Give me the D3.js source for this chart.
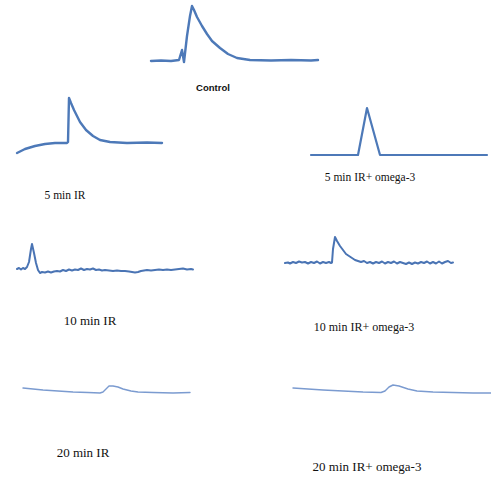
<!DOCTYPE html>
<html><head><meta charset="utf-8">
<script src="https://cdn.jsdelivr.net/npm/d3@7"></script>
<style>body{margin:0;background:#fff}svg{display:block}</style>
</head><body>
<svg id="c" width="491" height="477"></svg>
<script>
// ---- data: [time, amplitude] pairs (arbitrary units, baseline = 0) ----
const control = [[0,0],[10,0.5],[20,0],[28,1],[31,11],[33,-1],[36,25],[39,45],[41,55],[43,51],[46,44],[51,35],[56,27],[61,20],[69,13],[77,7],[86,3],[99,1],[120,0.5],[140,1],[160,0.5],[167,1]];
const ir5 = [[0,-10],[4,-8],[8,-6],[13,-4.5],[18,-3],[28,-1],[38,0],[50,0],[51,1],[52,45],[54,40],[57,33],[63,21],[69,13],[76,7],[83,3],[93,1],[110,0],[130,0.5],[145,0]];
const ir5omega = [[0,0],[47,0],[56,47],[69,0],[176,0]];
const ir10 = [[0,2],[2,3],[4,1.5],[6,3],[8,2],[10,4],[12,9],[14,22],[15,27],[17,18],[19,8],[21,1],[23,-2],[25,-1],[28,-1.5],[31,-0.5],[34,-1.5],[37,-0.5],[40,0],[43,-0.5],[46,1],[49,0],[52,1.5],[55,0.5],[58,1.5],[61,1],[64,2.5],[67,1],[70,2],[73,1.5],[76,2.5],[79,1],[82,1.5],[85,0.5],[88,1],[92,0.5],[96,0],[100,0.5],[104,0],[108,0],[112,-0.5],[115,-1],[118,-1.5],[121,-1],[124,0],[127,0.5],[130,1],[134,0.5],[138,1],[142,1.5],[146,1],[150,1.5],[154,1],[158,1.5],[162,2],[166,2.5],[170,1.5],[174,2],[176,1.5]];
const ir10omega = [[0,0],[3,0.5],[5,-0.5],[8,1],[11,0],[14,1.5],[17,0.5],[20,1],[23,-0.5],[26,1],[29,0],[32,1.5],[35,-0.5],[38,1],[41,0],[44,1],[46,0],[47,0.5],[48,14],[50,26],[52,22],[55,17],[58,13],[61,9],[64,7],[67,5],[70,3],[73,2],[76,1],[79,2],[82,0],[85,1],[88,-0.5],[91,1],[94,0],[97,1.5],[100,-0.5],[103,1],[106,0],[109,1.5],[112,-0.5],[115,1],[118,0],[121,-1],[124,0.5],[127,-1],[130,0.5],[133,-0.5],[136,1],[139,0],[142,1.5],[145,-0.5],[148,1],[151,-0.5],[154,1.5],[157,-0.5],[160,1],[163,2],[166,0],[168,0.5]];
const ir20 = [[0,5],[10,4],[20,3],[35,2],[50,1],[65,0.5],[77,0],[80,1],[83,4],[86,7],[90,7],[95,6],[100,4],[108,2],[115,1],[130,0.5],[150,0],[167,0.5]];
const ir20omega = [[0,5],[15,4],[30,3],[50,2],[70,1],[88,0.5],[92,2],[96,6],[100,8],[106,7],[115,4],[124,2],[140,1],[160,0.5],[180,0],[198,0]];
const labels = ["Control","5 min IR","5 min IR+ omega-3","10 min IR","10 min IR+ omega-3","20 min IR","20 min IR+ omega-3"];

// ---- layout ----
const series = [control, ir5, ir5omega, ir10, ir10omega, ir20, ir20omega];
const serif = "'Liberation Serif', 'Times New Roman', serif";
const layout = [
  {x0:151,x1:318,base:61, color:"#4d79b8",w:2.4, lx:213,ly:91, font:"bold 9.5px 'Liberation Sans', Arial, sans-serif"},
  {x0:17, x1:162,base:143,color:"#4d79b8",w:2.4, lx:65, ly:199,font:"11.5px " + serif},
  {x0:311,x1:487,base:155,color:"#4d79b8",w:2.2, lx:370,ly:181,font:"11.5px " + serif},
  {x0:17, x1:193,base:271,color:"#4a74b4",w:2.0, lx:90, ly:325,font:"13px " + serif},
  {x0:285,x1:453,base:263,color:"#4a74b4",w:2.0, lx:364,ly:331,font:"12px " + serif},
  {x0:23, x1:190,base:393,color:"#7b9bd0",w:1.4, lx:83, ly:457,font:"13px " + serif},
  {x0:293,x1:491,base:393,color:"#7b9bd0",w:1.4, lx:367,ly:471,font:"13px " + serif}
];

const svg = d3.select("#c");
series.forEach((d, i) => {
  const L = layout[i];
  const x = d3.scaleLinear().domain(d3.extent(d, p => p[0])).range([L.x0, L.x1]);
  const y = d3.scaleLinear().domain([0, 60]).range([L.base, L.base - 60]);
  const line = d3.line().x(p => x(p[0])).y(p => y(p[1]));
  svg.append("path").datum(d).attr("d", line)
    .attr("fill","none").attr("stroke",L.color).attr("stroke-width",L.w)
    .attr("stroke-linejoin","round").attr("stroke-linecap","round");
  svg.append("text").attr("x",L.lx).attr("y",L.ly).attr("text-anchor","middle")
    .style("font",L.font).attr("fill","#111").text(labels[i]);
});
</script>
</body></html>
